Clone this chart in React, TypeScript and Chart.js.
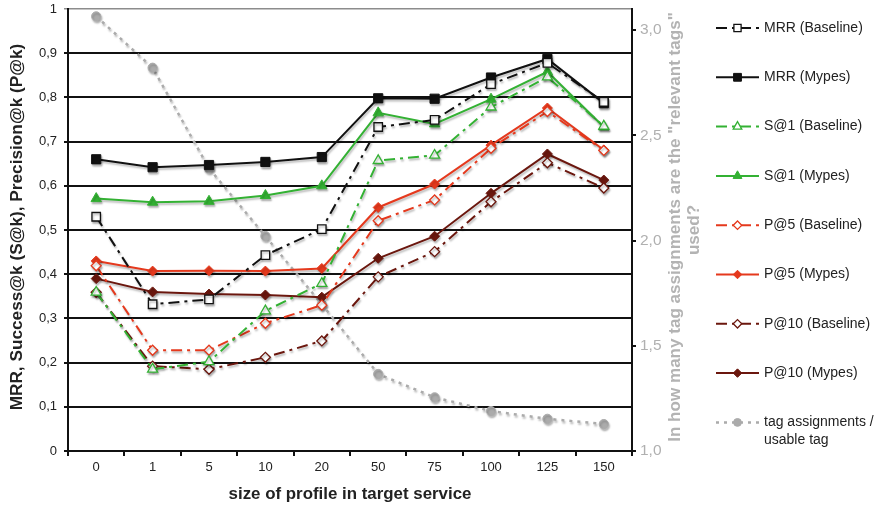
import React, { useEffect, useRef } from 'react';
import { Chart, registerables } from 'chart.js';

Chart.register(...registerables);

const categories = ['0', '1', '5', '10', '20', '50', '75', '100', '125', '150'];
const mrrBaseline = [0.53, 0.332, 0.343, 0.443, 0.502, 0.733, 0.749, 0.83, 0.878, 0.79];
const mrrMypes = [0.66, 0.642, 0.647, 0.654, 0.665, 0.798, 0.797, 0.845, 0.887, 0.787];
const s1Baseline = [0.359, 0.185, 0.202, 0.317, 0.379, 0.657, 0.669, 0.778, 0.846, 0.735];
const s1Mypes = [0.571, 0.563, 0.565, 0.578, 0.6, 0.765, 0.74, 0.796, 0.858, 0.733];
const p5Baseline = [0.419, 0.228, 0.228, 0.289, 0.33, 0.521, 0.568, 0.685, 0.768, 0.68];
const p5Mypes = [0.43, 0.407, 0.408, 0.407, 0.413, 0.551, 0.604, 0.692, 0.776, 0.681];
const p10Baseline = [0.359, 0.192, 0.185, 0.212, 0.249, 0.394, 0.451, 0.564, 0.652, 0.595];
const p10Mypes = [0.39, 0.36, 0.355, 0.353, 0.348, 0.436, 0.486, 0.583, 0.672, 0.613];
const tagsPerUsableTag = [3.065, 2.821, 2.343, 2.021, 1.697, 1.366, 1.255, 1.19, 1.153, 1.128];

const seriesLabels = [
  'MRR (Baseline)', 'MRR (Mypes)', 'S@1 (Baseline)', 'S@1 (Mypes)',
  'P@5 (Baseline)', 'P@5 (Mypes)', 'P@10 (Baseline)', 'P@10 (Mypes)',
  'tag assignments / usable tag',
];
const leftAxisTitle = 'MRR, Success@k (S@k), Precision@k (P@k)';
const rightAxisTitle1 = 'In how many tag assignments are the "relevant tags"';
const rightAxisTitle2 = 'used?';
const xAxisTitle = 'size of profile in target service';

const FONT = "'Liberation Sans', Arial, Helvetica, sans-serif";
const BLACK = '#111111';
const GREEN = '#33b133';
const RED = '#e5391d';
const DARKRED = '#6b170e';
const GRAY = '#ababab';
const DASH = [11, 5, 3, 5];

function fitFontSize(ctx: CanvasRenderingContext2D, text: string, weight: string, target: number) {
  ctx.font = `${weight} 100px ${FONT}`;
  const w = ctx.measureText(text).width;
  return (100 * target) / w;
}

function drawMarker(ctx: CanvasRenderingContext2D, style: string, x: number, y: number, r: number) {
  ctx.beginPath();
  if (style === 'rect') {
    const s = r * Math.SQRT1_2;
    ctx.rect(x - s, y - s, 2 * s, 2 * s);
  } else if (style === 'rectRot') {
    ctx.moveTo(x - r, y);
    ctx.lineTo(x, y - r);
    ctx.lineTo(x + r, y);
    ctx.lineTo(x, y + r);
    ctx.closePath();
  } else if (style === 'triangle') {
    let rad = 0;
    ctx.moveTo(x + Math.sin(rad) * r, y - Math.cos(rad) * r);
    rad += (2 * Math.PI) / 3;
    ctx.lineTo(x + Math.sin(rad) * r, y - Math.cos(rad) * r);
    rad += (2 * Math.PI) / 3;
    ctx.lineTo(x + Math.sin(rad) * r, y - Math.cos(rad) * r);
    ctx.closePath();
  } else {
    ctx.arc(x, y, r, 0, Math.PI * 2);
  }
}

const shadowPlugin = {
  id: 'shadowPlugin',
  beforeDatasetsDraw(chart: any) {
    const ctx = chart.ctx;
    ctx.save();
    ctx.shadowColor = 'rgba(0,0,0,0.28)';
    ctx.shadowBlur = 2;
    ctx.shadowOffsetX = 1;
    ctx.shadowOffsetY = 2;
  },
  afterDatasetsDraw(chart: any) {
    chart.ctx.restore();
  },
};

const decorPlugin = {
  id: 'decorPlugin',
  afterDraw(chart: any) {
    const ctx: CanvasRenderingContext2D = chart.ctx;
    const area = chart.chartArea;
    const cy = (area.top + area.bottom) / 2;

    // left title
    ctx.save();
    let fs = fitFontSize(ctx, leftAxisTitle, 'bold', 367);
    ctx.font = `bold ${fs}px ${FONT}`;
    ctx.fillStyle = '#222222';
    ctx.textAlign = 'center';
    ctx.textBaseline = 'middle';
    ctx.translate(17, cy - 3);
    ctx.rotate(-Math.PI / 2);
    ctx.fillText(leftAxisTitle, 0, 0);
    ctx.restore();

    // right title (two lines)
    ctx.save();
    fs = fitFontSize(ctx, rightAxisTitle1, 'bold', 430);
    ctx.font = `bold ${fs}px ${FONT}`;
    ctx.fillStyle = '#b3b3b3';
    ctx.textAlign = 'center';
    ctx.textBaseline = 'middle';
    ctx.save();
    ctx.translate(675, cy - 3);
    ctx.rotate(-Math.PI / 2);
    ctx.fillText(rightAxisTitle1, 0, 0);
    ctx.restore();
    ctx.save();
    ctx.translate(694, cy);
    ctx.rotate(-Math.PI / 2);
    ctx.fillText(rightAxisTitle2, 0, 0);
    ctx.restore();
    ctx.restore();

    // x title
    ctx.save();
    fs = fitFontSize(ctx, xAxisTitle, 'bold', 243);
    ctx.font = `bold ${fs}px ${FONT}`;
    ctx.fillStyle = '#222222';
    ctx.textAlign = 'center';
    ctx.textBaseline = 'middle';
    ctx.fillText(xAxisTitle, (area.left + area.right) / 2, 494);
    ctx.restore();

    // legend
    const datasets = chart.data.datasets;
    datasets.forEach((ds: any, i: number) => {
      const y = 28 + i * 49.3;
      ctx.save();
      ctx.strokeStyle = ds.borderColor;
      ctx.lineWidth = ds.borderWidth;
      ctx.setLineDash(ds.borderDash || []);
      ctx.beginPath();
      ctx.moveTo(716, y);
      ctx.lineTo(759, y);
      ctx.stroke();
      ctx.setLineDash([]);
      const r = ds.pointRadius * 0.85;
      drawMarker(ctx, ds.pointStyle, 737.5, y, r);
      ctx.fillStyle = ds.pointBackgroundColor;
      ctx.fill();
      ctx.lineWidth = ds.pointBorderWidth;
      ctx.strokeStyle = ds.pointBorderColor;
      ctx.stroke();
      ctx.restore();

      ctx.save();
      ctx.font = `14px ${FONT}`;
      ctx.fillStyle = '#222222';
      ctx.textAlign = 'left';
      ctx.textBaseline = 'middle';
      if (i === datasets.length - 1) {
        ctx.fillText('tag assignments /', 764, y);
        ctx.fillText('usable tag', 764, y + 17.5);
      } else {
        ctx.fillText(ds.label, 764, y);
      }
      ctx.restore();
    });
  },
};

function lineDs(label: string, data: number[], color: string, baseline: boolean, style: string, radius: number, axis = 'y') {
  return {
    label,
    data,
    yAxisID: axis,
    borderColor: color,
    borderWidth: 2,
    borderDash: baseline ? DASH : [],
    pointStyle: style,
    pointRadius: radius,
    pointHoverRadius: radius,
    pointBackgroundColor: baseline ? '#ffffff' : color,
    pointBorderColor: color,
    pointBorderWidth: baseline ? 1.3 : 1,
    tension: 0,
    fill: false,
  };
}

const zeroVertPad = (s: any) => {
  s.paddingTop = 0;
  s.paddingBottom = 0;
};

export default function App() {
  const canvasRef = useRef<HTMLCanvasElement | null>(null);

  useEffect(() => {
    document.body.style.margin = '0';
    const canvas = canvasRef.current;
    if (!canvas) return;

    const tagDs: any = lineDs(seriesLabels[8], tagsPerUsableTag, GRAY, false, 'circle', 4.6, 'y2');
    tagDs.borderDash = [3, 5];
    tagDs.borderWidth = 2.5;
    tagDs.pointBorderColor = GRAY;

    const chart = new Chart(canvas, {
      type: 'line',
      data: {
        labels: categories,
        datasets: [
          lineDs(seriesLabels[0], mrrBaseline, BLACK, true, 'rect', 6),
          lineDs(seriesLabels[1], mrrMypes, BLACK, false, 'rect', 6.5),
          lineDs(seriesLabels[2], s1Baseline, GREEN, true, 'triangle', 5.8),
          lineDs(seriesLabels[3], s1Mypes, GREEN, false, 'triangle', 6),
          lineDs(seriesLabels[4], p5Baseline, RED, true, 'rectRot', 5),
          lineDs(seriesLabels[5], p5Mypes, RED, false, 'rectRot', 5),
          lineDs(seriesLabels[6], p10Baseline, DARKRED, true, 'rectRot', 5),
          lineDs(seriesLabels[7], p10Mypes, DARKRED, false, 'rectRot', 5),
          tagDs,
        ] as any,
      },
      options: {
        responsive: false,
        animation: false,
        devicePixelRatio: 1,
        layout: { padding: { left: 0, right: 877 - 632 - 80, top: 9, bottom: 0 } },
        plugins: {
          legend: { display: false },
          tooltip: { enabled: false },
          title: { display: false },
        },
        scales: {
          x: {
            type: 'category',
            offset: true,
            grid: {
              offset: true,
              drawOnChartArea: false,
              drawTicks: true,
              tickLength: 5,
              color: BLACK,
              lineWidth: 2,
            },
            border: { display: true, color: BLACK, width: 2 },
            ticks: {
              color: '#222222',
              font: { family: FONT, size: 13 },
              padding: 4,
              maxRotation: 0,
              autoSkip: false,
            },
            afterFit: (s: any) => {
              s.height = 56;
              s.paddingLeft = 0;
              s.paddingRight = 0;
            },
          },
          y: {
            position: 'left',
            min: 0,
            max: 1,
            ticks: {
              stepSize: 0.1,
              color: '#222222',
              font: { family: FONT, size: 13 },
              padding: 7,
              callback: (v: any) => {
                const n = Number(v);
                if (Math.abs(n) < 1e-9) return '0';
                if (Math.abs(n - 1) < 1e-9) return '1';
                return n.toFixed(1).replace('.', ',');
              },
            },
            grid: {
              drawTicks: true,
              tickLength: 4,
              color: (c: any) => (c.tick && Math.abs(c.tick.value - 1) < 1e-6 ? '#8c8c8c' : BLACK),
              lineWidth: (c: any) => (c.tick && Math.abs(c.tick.value - 1) < 1e-6 ? 1.5 : 2),
            },
            border: { display: true, color: BLACK, width: 2 },
            afterFit: (s: any) => {
              s.width = 68;
              zeroVertPad(s);
            },
          },
          y2: {
            position: 'right',
            min: 1,
            max: 3.1,
            ticks: {
              stepSize: 0.5,
              color: '#b0b0b0',
              font: { family: FONT, size: 15.5 },
              padding: 4,
              callback: (v: any) => Number(v).toFixed(1).replace('.', ','),
            },
            afterBuildTicks: (s: any) => {
              s.ticks = s.ticks.filter((t: any) => t.value <= 3.0001);
            },
            grid: {
              drawOnChartArea: false,
              drawTicks: true,
              tickLength: 4,
              color: BLACK,
              lineWidth: 2,
            },
            border: { display: true, color: BLACK, width: 2 },
            afterFit: (s: any) => {
              s.width = 80;
              zeroVertPad(s);
            },
          },
        },
      } as any,
      plugins: [shadowPlugin, decorPlugin],
    });

    return () => {
      chart.destroy();
    };
  }, []);

  return (
    <div style={{ width: 877, height: 507, background: '#ffffff' }}>
      <canvas ref={canvasRef} width={877} height={507} style={{ display: 'block' }} />
    </div>
  );
}
